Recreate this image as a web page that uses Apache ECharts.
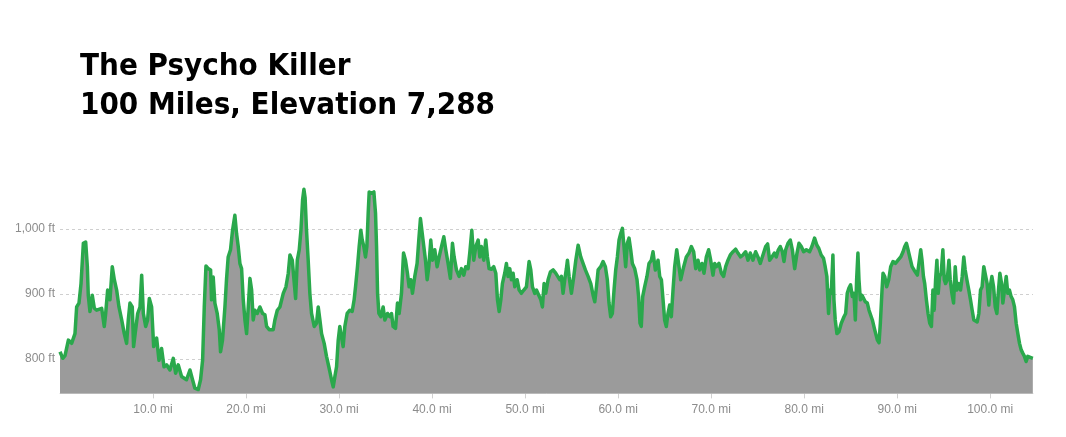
<!DOCTYPE html>
<html><head><meta charset="utf-8">
<script src="https://cdn.jsdelivr.net/npm/echarts@6/dist/echarts.min.js"></script>
<style>html,body{margin:0;padding:0;background:#fff}#c{width:1066px;height:437px}</style>
</head><body><div id="c"></div>
<script>
const titleLines = ['The Psycho Killer', '100 Miles, Elevation 7,288'];
const yTicks = [800, 900, 1000];
const xTicks = [10, 20, 30, 40, 50, 60, 70, 80, 90, 100];
const distance = [0,0.3,0.54,0.9,1.25,1.61,1.79,2.04,2.26,2.51,2.76,2.94,3.04,3.22,3.47,3.69,3.94,4.48,4.76,4.91,5.12,5.37,5.62,5.84,6.09,6.34,6.63,6.91,7.16,7.34,7.52,7.77,7.91,8.13,8.35,8.6,8.78,8.96,9.21,9.42,9.6,9.85,10.07,10.39,10.64,10.92,11.18,11.46,11.82,12.18,12.43,12.71,13.07,13.6,13.97,14.25,14.5,14.86,15.11,15.33,15.51,15.69,15.94,16.19,16.29,16.47,16.65,16.9,17.12,17.26,17.47,17.73,17.9,18.08,18.33,18.55,18.8,18.98,19.16,19.34,19.52,19.7,19.88,20.06,20.24,20.42,20.6,20.77,20.95,21.2,21.49,21.78,22.03,22.21,22.49,22.92,23.1,23.36,23.64,24.0,24.29,24.54,24.72,24.97,25.15,25.33,25.51,25.72,25.9,26.08,26.22,26.35,26.5,26.68,26.86,27.04,27.33,27.58,27.76,27.94,28.12,28.4,28.65,28.9,29.19,29.37,29.55,29.73,29.91,30.08,30.26,30.44,30.62,30.87,31.16,31.41,31.62,31.77,31.98,32.16,32.34,32.49,32.66,32.84,32.99,33.13,33.24,33.49,33.74,33.92,34.03,34.14,34.28,34.49,34.74,34.92,35.21,35.46,35.64,35.81,36.07,36.28,36.46,36.71,36.93,37.14,37.35,37.53,37.71,37.89,38.14,38.39,38.57,38.75,38.93,39.11,39.29,39.47,39.65,39.86,40.04,40.29,40.54,40.76,41.01,41.26,41.47,41.72,41.97,42.19,42.37,42.62,42.9,43.16,43.41,43.62,43.87,44.05,44.27,44.48,44.7,44.95,45.13,45.3,45.56,45.77,45.95,46.13,46.38,46.63,46.85,47.03,47.21,47.39,47.56,47.81,47.99,48.17,48.35,48.53,48.71,48.89,49.14,49.36,49.6,49.86,50.14,50.43,50.61,50.79,51.04,51.22,51.47,51.69,51.86,52.04,52.22,52.47,52.72,53.01,53.29,53.47,53.72,53.9,54.08,54.26,54.44,54.55,54.73,54.98,55.23,55.45,55.7,55.98,56.23,56.48,56.77,57.06,57.31,57.49,57.67,57.85,58.13,58.38,58.63,58.84,59.02,59.2,59.38,59.56,59.74,59.92,60.1,60.28,60.46,60.63,60.81,60.99,61.17,61.35,61.53,61.78,62.03,62.2,62.35,62.49,62.64,62.85,63.1,63.32,63.57,63.75,64.0,64.29,64.47,64.65,64.83,65.0,65.18,65.36,65.54,65.72,65.9,66.08,66.3,66.51,66.73,67.05,67.33,67.62,67.87,68.12,68.34,68.59,68.77,69.02,69.23,69.48,69.73,69.95,70.2,70.38,70.56,70.84,71.1,71.34,71.56,71.81,72.06,72.35,72.63,72.88,73.17,73.42,73.71,73.96,74.21,74.49,74.78,75.03,75.28,75.57,75.86,76.07,76.29,76.54,76.79,77.0,77.22,77.43,77.65,77.83,78.01,78.26,78.51,78.73,78.98,79.23,79.44,79.69,79.94,80.23,80.58,80.83,81.12,81.37,81.58,81.83,82.08,82.26,82.44,82.62,82.77,82.91,83.09,83.2,83.34,83.52,83.74,83.99,84.28,84.46,84.63,84.81,84.99,85.17,85.35,85.5,85.64,85.78,85.89,86.04,86.22,86.4,86.57,86.79,86.97,87.15,87.33,87.58,87.87,88.05,88.19,88.37,88.48,88.66,88.87,89.09,89.3,89.55,89.81,90.09,90.38,90.63,90.81,90.99,91.17,91.38,91.6,91.81,91.99,92.17,92.35,92.53,92.67,92.82,92.96,93.14,93.32,93.5,93.68,93.84,93.98,94.13,94.27,94.41,94.56,94.73,94.91,95.06,95.2,95.38,95.56,95.7,95.88,96.06,96.24,96.41,96.63,96.81,96.99,97.16,97.31,97.49,97.7,97.88,98.06,98.24,98.42,98.6,98.78,98.96,99.13,99.31,99.49,99.67,99.85,100.0,100.18,100.36,100.54,100.72,100.89,101.04,101.22,101.36,101.54,101.72,101.89,102.07,102.25,102.43,102.61,102.79,102.97,103.15,103.33,103.5,103.68,103.86,104.04,104.22,104.58];
const elevation = [811,801,805,829,824,839,880,886,916,978,980,942,898,873,898,878,875,878,850,870,906,891,942,922,906,880,860,839,824,860,886,880,819,845,870,880,929,870,850,860,893,880,819,832,798,816,788,791,783,801,778,791,773,768,783,768,755,753,768,798,880,943,939,937,891,926,886,870,845,811,829,880,922,957,968,998,1021,993,973,947,939,891,860,839,880,924,906,860,875,870,880,870,868,850,845,845,860,875,880,901,911,932,960,952,922,893,952,968,998,1045,1061,1048,998,952,901,870,850,855,880,860,839,824,804,788,768,757,773,788,829,850,834,819,850,870,875,873,891,911,942,973,998,983,973,957,973,1024,1057,1055,1057,1024,973,901,870,865,880,860,870,865,870,850,847,886,870,901,963,952,932,911,922,901,927,947,983,1016,1014,973,952,922,942,983,952,968,942,957,973,988,968,947,924,978,957,937,927,939,929,942,939,963,998,952,973,983,957,973,952,983,957,939,938,942,932,891,873,891,916,932,947,927,939,922,932,911,922,906,901,906,911,950,937,911,901,906,898,891,880,916,901,922,934,937,932,929,922,927,901,922,939,952,927,901,927,952,975,957,947,937,927,916,898,888,911,937,942,950,942,922,886,865,870,906,937,957,983,993,1001,973,942,978,986,968,947,939,922,896,855,850,896,911,927,947,952,965,937,952,927,922,891,860,850,870,883,865,906,942,968,965,922,942,957,963,973,965,939,952,937,947,932,957,968,952,929,947,942,947,932,927,942,952,960,965,969,963,957,960,965,952,963,952,965,957,947,960,973,977,952,957,963,957,968,973,965,950,968,978,983,968,939,963,978,973,965,968,965,973,986,975,970,960,955,942,927,870,906,901,960,891,860,839,842,855,865,870,901,909,914,896,901,860,922,963,922,891,898,901,888,886,875,873,860,845,829,825,855,906,932,927,911,922,942,950,947,952,957,965,973,978,968,955,942,937,939,929,932,968,952,927,916,891,870,855,850,906,875,922,952,901,927,932,968,922,916,922,952,922,901,886,942,906,916,906,927,957,937,922,906,891,875,860,857,857,870,906,911,942,939,916,883,911,927,911,880,870,906,932,916,886,906,927,901,906,896,891,880,855,839,824,814,809,804,796,804,806,801];

const chart = echarts.init(document.getElementById('c'));
const pts = distance.map((d, i) => [d, elevation[i]]);
chart.setOption({
  animation: false,
  backgroundColor: '#ffffff',
  title: {
    text: titleLines.join('\n'),
    left: 75, top: 43,
    textStyle: {fontFamily: 'DejaVu Sans Condensed', fontWeight: 'bold', fontSize: 31, lineHeight: 38.6, color: '#000'}
  },
  grid: {left: 60, right: 33, top: 183.5, bottom: 43.6},
  xAxis: {
    type: 'value', min: 0, max: 104.6, interval: 10,
    axisLine: {show: true, lineStyle: {color: '#d8d8d8', width: 1}},
    axisTick: {show: true, length: 5, lineStyle: {color: '#d0d0d0'}},
    splitLine: {show: false},
    axisLabel: {
      showMinLabel: false, showMaxLabel: false, margin: 10,
      color: '#8c8c8c', fontSize: 12, fontFamily: 'Liberation Sans',
      formatter: v => xTicks.includes(Math.round(v)) && Math.abs(v - Math.round(v)) < 1e-6 ? v.toFixed(1) + ' mi' : ''
    }
  },
  yAxis: {
    type: 'value', min: 747, max: 1070, splitNumber: 3,
    axisLine: {show: false}, axisTick: {show: false},
    splitLine: {show: true, showMinLine: false, showMaxLine: false, lineStyle: {color: '#cfcfcf', type: [3, 3], width: 1}},
    axisLabel: {
      showMinLabel: false, showMaxLabel: false, margin: 5,
      color: '#8c8c8c', fontSize: 12, fontFamily: 'Liberation Sans',
      formatter: v => yTicks.includes(v) ? v.toLocaleString('en-US') + ' ft' : ''
    }
  },
  series: [{
    type: 'line', data: pts, symbol: 'none', smooth: false,
    lineStyle: {color: '#2aa84c', width: 3.5, join: 'round'},
    areaStyle: {color: '#9b9b9b', opacity: 1, origin: 'start'},
    z: 2
  }]
});
</script></body></html>
